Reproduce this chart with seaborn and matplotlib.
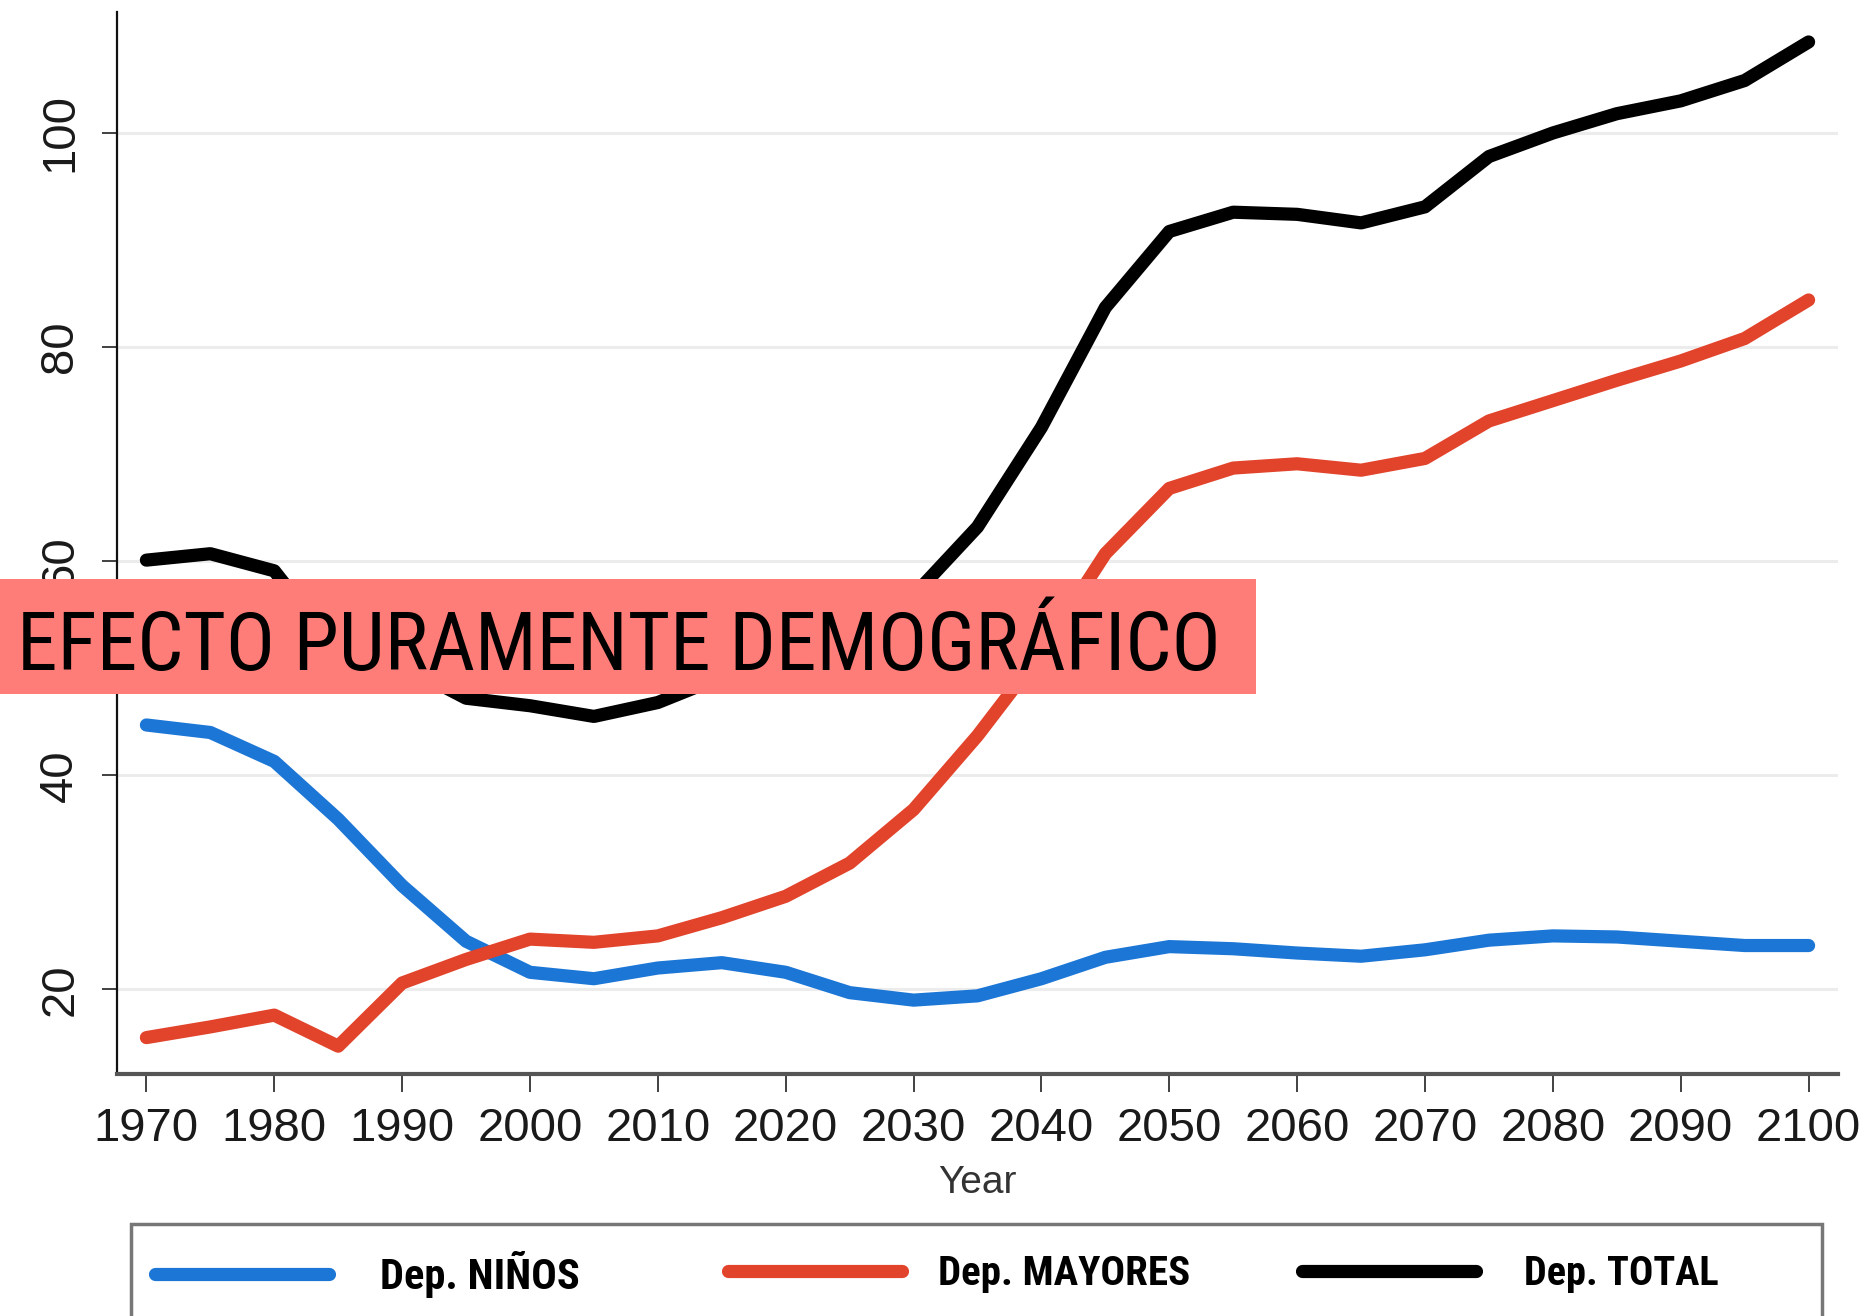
import matplotlib
matplotlib.use("Agg")
import matplotlib.pyplot as plt
from matplotlib.patches import Rectangle
from matplotlib import font_manager as fm
import seaborn as sns
import pandas as pd

# ---------------- data ----------------
years = [1970, 1975, 1980, 1985, 1990, 1995, 2000, 2005, 2010, 2015, 2020, 2025, 2030,
         2035, 2040, 2045, 2050, 2055, 2060, 2065, 2070, 2075, 2080, 2085, 2090, 2095, 2100]
dep_ninos = [44.7, 44.0, 41.3, 35.9, 29.7, 24.5, 21.6, 21.0, 22.0, 22.5, 21.6, 19.7, 19.0,
             19.4, 21.0, 23.0, 24.0, 23.8, 23.4, 23.1, 23.7, 24.6, 25.0, 24.9, 24.5, 24.1, 24.1]
dep_mayores = [15.5, 16.5, 17.6, 14.7, 20.6, 22.8, 24.7, 24.4, 25.0, 26.7, 28.7, 31.8, 36.8,
               43.7, 51.5, 60.7, 66.8, 68.7, 69.1, 68.5, 69.6, 73.1, 75.0, 76.9, 78.7, 80.8, 84.4]
dep_total = [60.1, 60.7, 59.1, 51.5, 50.3, 47.2, 46.5, 45.5, 46.8, 49.2, 50.3, 51.5, 56.8,
             63.2, 72.5, 83.7, 90.8, 92.6, 92.4, 91.6, 93.1, 97.8, 100.0, 101.8, 103.0, 104.9, 108.5]
series_labels = ["Dep. NIÑOS", "Dep. MAYORES", "Dep. TOTAL"]
series_colors = ["#1C76D6", "#E2432B", "#000000"]
x_ticks = [1970, 1980, 1990, 2000, 2010, 2020, 2030, 2040, 2050, 2060, 2070, 2080, 2090, 2100]
y_ticks = [20, 40, 60, 80, 100]
banner_text = "EFECTO PURAMENTE DEMOGRÁFICO"
x_title = "Year"

df = pd.DataFrame({
    "year": years * 3,
    "value": dep_ninos + dep_mayores + dep_total,
    "serie": [series_labels[0]] * len(years) + [series_labels[1]] * len(years)
             + [series_labels[2]] * len(years),
})

# ---------------- figure ----------------
sns.set_theme(style="white")
plt.rcParams["font.family"] = ["Liberation Sans", "DejaVu Sans"]

# pick a condensed face if one is installed
installed = {f.name for f in fm.fontManager.ttflist}
narrow_family = "DejaVu Sans"
for cand in ["Liberation Sans Narrow", "Roboto Condensed", "Open Sans Condensed",
             "Noto Sans Condensed", "DejaVu Sans Condensed"]:
    if cand in installed:
        narrow_family = cand
        break

W, H = 1875, 1316
fig = plt.figure(figsize=(W / 100, H / 100), dpi=100)
fig.patch.set_facecolor("white")
ax = fig.add_axes([117 / W, 1 - 1074 / H, (1838 - 117) / W, (1074 - 12) / H])
ax.set_facecolor("white")

sns.lineplot(data=df, x="year", y="value", hue="serie", hue_order=series_labels,
             palette=series_colors, linewidth=9.5, legend=False, ax=ax,
             solid_capstyle="round", solid_joinstyle="round")

ax.set_xlim(1967.7, 2102.3)
ax.set_ylim(12.1, 111.3)
ax.set_xticks(x_ticks)
ax.set_xticklabels([str(t) for t in x_ticks])
ax.set_yticks(y_ticks)
ax.set_yticklabels([str(t) for t in y_ticks], rotation=90, va="center")
ax.set_xlabel(x_title, fontsize=28, color="#333333", labelpad=10)
ax.set_ylabel("")

ax.grid(axis="y", color="#ececec", linewidth=2.2)
ax.grid(axis="x", visible=False)
ax.set_axisbelow(True)

for s in ["top", "right"]:
    ax.spines[s].set_visible(False)
ax.spines["left"].set_color("#111111")
ax.spines["left"].set_linewidth(1.6)
ax.spines["bottom"].set_color("#555555")
ax.spines["bottom"].set_linewidth(3)

ax.tick_params(axis="x", which="major", bottom=True, length=13, width=1.3, color="#333333",
               labelsize=34, labelcolor="#1a1a1a", pad=11)
ax.tick_params(axis="y", which="major", left=True, length=11, width=1.3, color="#333333",
               labelsize=34, labelcolor="#1a1a1a", pad=14)

renderer = fig.canvas.get_renderer()


def fit_size(artist, target_px, base):
    w = artist.get_window_extent(renderer=renderer).width
    return base * target_px / w


# ---------------- banner ----------------
banner = Rectangle((0, 1 - 694 / H), 1256 / W, (694 - 579) / H, transform=fig.transFigure,
                   facecolor="#FF7D78", edgecolor="none", zorder=10)
fig.patches.append(banner)
btxt = fig.text(17 / W, 1 - 639 / H, banner_text, fontsize=53, color="black",
                family=[narrow_family, "DejaVu Sans"], stretch="condensed",
                ha="left", va="center_baseline", zorder=11)
btxt.set_fontsize(fit_size(btxt, 1205, 53))

# ---------------- legend box ----------------
frame = Rectangle((131 / W, -0.05), (1822 - 131) / W, 0.05 + (1 - 1224 / H),
                  transform=fig.transFigure, facecolor="none", edgecolor="#777777",
                  linewidth=2.5, zorder=10, clip_on=False)
fig.patches.append(frame)

handles = ax.get_lines()[:3]
handle_x = [155, 728, 1302]
text_x = [380, 938, 1524]
text_w = [200, 252, 195]
for h, lab, hx, tx, tw in zip(handles, series_labels, handle_x, text_x, text_w):
    # size the label font to the label width seen in the chart
    probe = fig.text(0, 0, lab, family=[narrow_family, "DejaVu Sans"], stretch="condensed",
                     weight="bold", fontsize=26)
    fs = fit_size(probe, tw, 26)
    probe.remove()
    fs_px = fs * 100 / 72
    leg = fig.legend(handles=[h], labels=[lab], loc="center left",
                     bbox_to_anchor=(hx / W, 1 - 1274 / H), frameon=False,
                     borderpad=0, borderaxespad=0, handlelength=174 / fs_px,
                     handletextpad=(tx - hx - 174) / fs_px,
                     prop={"family": [narrow_family, "DejaVu Sans"], "stretch": "condensed",
                           "weight": "bold", "size": fs})
    for t in leg.get_texts():
        t.set_color("black")

fig.savefig("out.png", dpi=100, facecolor="white")
